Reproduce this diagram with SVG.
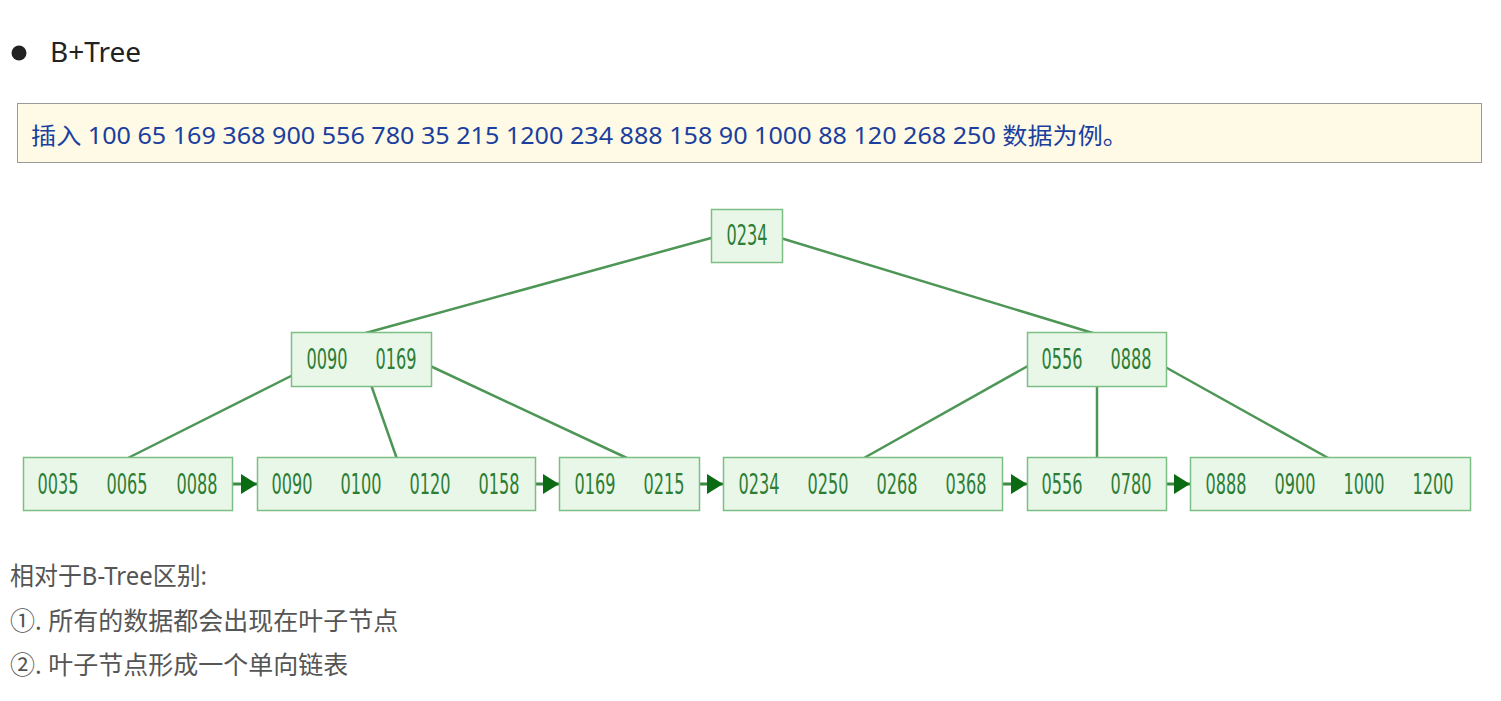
<svg xmlns="http://www.w3.org/2000/svg" width="1501" height="701" viewBox="0 0 1501 701">
<defs>
<marker id="ah" viewBox="0 0 10 10" refX="10" refY="5" markerWidth="16" markerHeight="20" markerUnits="userSpaceOnUse" orient="auto" preserveAspectRatio="none">
<path d="M0,0 L10,5 L0,10 Z" fill="#0b6b12"/>
</marker>
</defs>
<style>
.node rect{fill:#e9f7e9;stroke:#7cbf84;stroke-width:1.5}
.node text{font-family:"DejaVu Sans Condensed","DejaVu Sans",sans-serif;font-size:28px;fill:#2d7d35;text-anchor:middle}
.edge{stroke:#4e9656;stroke-width:2.5;fill:none}
.link{stroke:#3d8a45;stroke-width:3;fill:none;marker-end:url(#ah)}
.cn{font-family:"Noto Sans","Noto Sans CJK SC",sans-serif;font-size:25px;fill:#555}
</style>
<rect width="1501" height="701" fill="#fff"/>
<circle cx="19" cy="53" r="7.5" fill="#222"/>
<text x="50" y="62" font-family="'Noto Sans','Open Sans',sans-serif" font-size="28" fill="#222">B+Tree</text>
<rect x="17.5" y="103.5" width="1464" height="59" fill="#fefae6" stroke="#9a9a9a" stroke-width="1"/>
<text x="31" y="144" font-family="'Noto Sans','Noto Sans CJK SC',sans-serif" font-size="23" fill="#1b3f9e" textLength="1097" lengthAdjust="spacingAndGlyphs">插入 100 65 169 368 900 556 780 35 215 1200 234 888 158 90 1000 88 120 268 250 数据为例。</text>

<g id="connectors">
<line class="edge" x1="722" y1="235" x2="362" y2="334"/>
<line class="edge" x1="774" y1="236" x2="1096" y2="334"/>
<line class="edge" x1="301" y1="371" x2="128" y2="458"/>
<line class="edge" x1="362" y1="359" x2="397" y2="459"/>
<line class="edge" x1="426" y1="364" x2="629" y2="459"/>
<line class="edge" x1="1035" y1="362" x2="864" y2="458"/>
<line class="edge" x1="1097" y1="360" x2="1097" y2="458"/>
<line class="edge" x1="1158" y1="363" x2="1330" y2="459"/>
<line class="link" x1="223" y1="484" x2="257" y2="484"/>
<line class="link" x1="525" y1="484" x2="559" y2="484"/>
<line class="link" x1="690" y1="484" x2="723" y2="484"/>
<line class="link" x1="992" y1="484" x2="1027" y2="484"/>
<line class="link" x1="1157" y1="484" x2="1190" y2="484"/>
</g>

<g id="root" class="node">
<rect x="711.5" y="209.5" width="71" height="53"/>
<text x="747" y="245" textLength="41" lengthAdjust="spacingAndGlyphs">0234</text>
</g>
<g id="mid-left" class="node">
<rect x="291.5" y="332.5" width="140" height="54"/>
<text x="327" y="369" textLength="41" lengthAdjust="spacingAndGlyphs">0090</text>
<text x="396" y="369" textLength="41" lengthAdjust="spacingAndGlyphs">0169</text>
</g>
<g id="mid-right" class="node">
<rect x="1027.5" y="332.5" width="139" height="54"/>
<text x="1062" y="369" textLength="41" lengthAdjust="spacingAndGlyphs">0556</text>
<text x="1131" y="369" textLength="41" lengthAdjust="spacingAndGlyphs">0888</text>
</g>
<g id="leaf1" class="node">
<rect x="23.5" y="457.5" width="209" height="53"/>
<text x="58" y="494" textLength="41" lengthAdjust="spacingAndGlyphs">0035</text>
<text x="127" y="494" textLength="41" lengthAdjust="spacingAndGlyphs">0065</text>
<text x="197" y="494" textLength="41" lengthAdjust="spacingAndGlyphs">0088</text>
</g>
<g id="leaf2" class="node">
<rect x="257.5" y="457.5" width="278" height="53"/>
<text x="292" y="494" textLength="41" lengthAdjust="spacingAndGlyphs">0090</text>
<text x="361" y="494" textLength="41" lengthAdjust="spacingAndGlyphs">0100</text>
<text x="430" y="494" textLength="41" lengthAdjust="spacingAndGlyphs">0120</text>
<text x="499" y="494" textLength="41" lengthAdjust="spacingAndGlyphs">0158</text>
</g>
<g id="leaf3" class="node">
<rect x="559.5" y="457.5" width="140" height="53"/>
<text x="595" y="494" textLength="41" lengthAdjust="spacingAndGlyphs">0169</text>
<text x="664" y="494" textLength="41" lengthAdjust="spacingAndGlyphs">0215</text>
</g>
<g id="leaf4" class="node">
<rect x="723.5" y="457.5" width="279" height="53"/>
<text x="759" y="494" textLength="41" lengthAdjust="spacingAndGlyphs">0234</text>
<text x="828" y="494" textLength="41" lengthAdjust="spacingAndGlyphs">0250</text>
<text x="897" y="494" textLength="41" lengthAdjust="spacingAndGlyphs">0268</text>
<text x="966" y="494" textLength="41" lengthAdjust="spacingAndGlyphs">0368</text>
</g>
<g id="leaf5" class="node">
<rect x="1027.5" y="457.5" width="139" height="53"/>
<text x="1062" y="494" textLength="41" lengthAdjust="spacingAndGlyphs">0556</text>
<text x="1131" y="494" textLength="41" lengthAdjust="spacingAndGlyphs">0780</text>
</g>
<g id="leaf6" class="node">
<rect x="1190.5" y="457.5" width="280" height="53"/>
<text x="1226" y="494" textLength="41" lengthAdjust="spacingAndGlyphs">0888</text>
<text x="1295" y="494" textLength="41" lengthAdjust="spacingAndGlyphs">0900</text>
<text x="1364" y="494" textLength="41" lengthAdjust="spacingAndGlyphs">1000</text>
<text x="1433" y="494" textLength="41" lengthAdjust="spacingAndGlyphs">1200</text>
</g>

<text class="cn" x="10" y="585" textLength="197" lengthAdjust="spacingAndGlyphs">相对于B-Tree区别:</text>
<text class="cn" x="10" y="630">①. 所有的数据都会出现在叶子节点</text>
<text class="cn" x="10" y="674">②. 叶子节点形成一个单向链表</text>
</svg>
